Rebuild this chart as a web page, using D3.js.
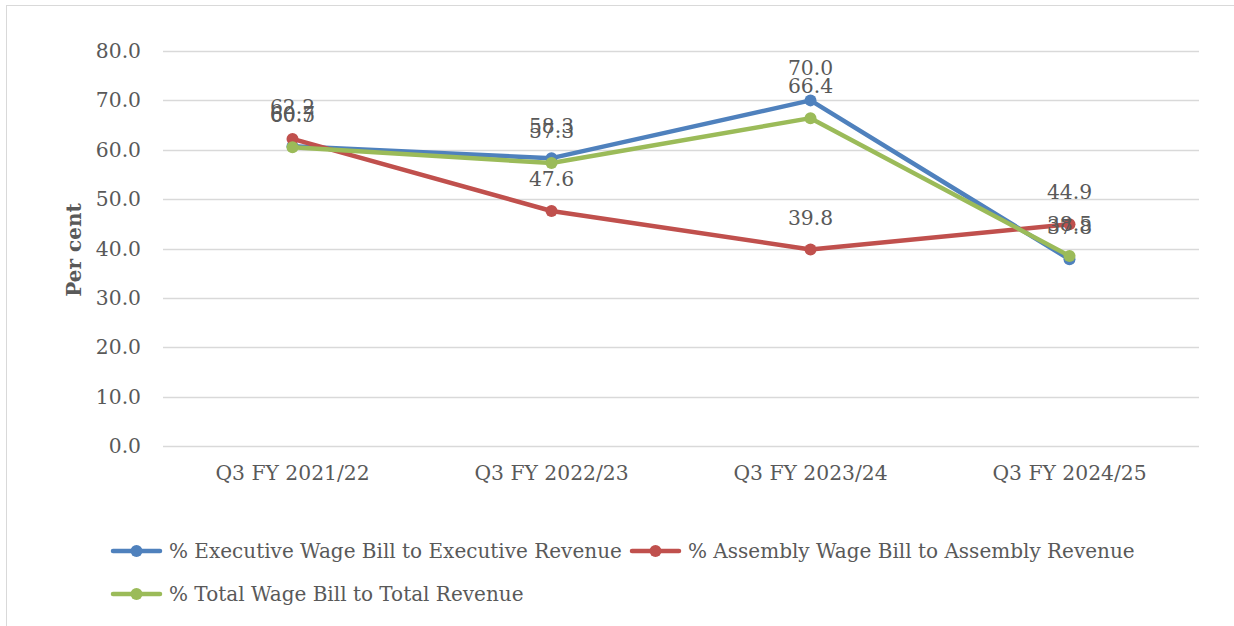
<!DOCTYPE html>
<html><head><meta charset="utf-8">
<script src="https://cdn.jsdelivr.net/npm/d3@7"></script>
<style>
html,body{margin:0;padding:0;background:#fff;}
svg{display:block;}
text{font-family:"DejaVu Serif","Liberation Serif",serif;fill:#595959;}
</style></head><body>
<svg id="chart" width="1234" height="626"></svg>
<script>
const categories = ["Q3 FY 2021/22","Q3 FY 2022/23","Q3 FY 2023/24","Q3 FY 2024/25"];
const executive = [60.7, 58.3, 70.0, 37.8];
const assembly = [62.2, 47.6, 39.8, 44.9];
const total = [60.5, 57.3, 66.4, 38.5];
const seriesNames = ["% Executive Wage Bill to Executive Revenue","% Assembly Wage Bill to Assembly Revenue","% Total Wage Bill to Total Revenue"];
const yTicks = [0,10,20,30,40,50,60,70,80];

(function(){
const colors = ["#4F81BD","#C0504D","#9BBB59"];
const series = [executive, assembly, total];
const FS = 20.3;
const svg = d3.select("#chart");
const W=1234,H=626;
svg.append("rect").attr("x",6.5).attr("y",5.5).attr("width",W+10).attr("height",H+10)
  .attr("fill","#fff").attr("stroke","#d9d9d9").attr("stroke-width",1);

const pL=163,pR=1199,pT=51,pB=446;
const x = d3.scaleBand().domain(categories).range([pL,pR]);
const y = d3.scaleLinear().domain([0,80]).range([pB,pT]);

// gridlines
svg.append("g").selectAll("line").data(yTicks).join("line")
  .attr("x1",pL).attr("x2",pR).attr("y1",d=>Math.round(y(d))+0.5).attr("y2",d=>Math.round(y(d))+0.5)
  .attr("stroke","#d9d9d9").attr("stroke-width",1.5);

// y axis labels
const yAxis = d3.axisLeft(y).tickValues(yTicks).tickFormat(d3.format(".1f")).tickSize(0).tickPadding(22);
const ga = svg.append("g").attr("transform",`translate(${pL},0)`).call(yAxis);
ga.select(".domain").remove();
ga.selectAll("text").style("font-family",'"DejaVu Serif","Liberation Serif",serif').attr("font-size",FS).attr("fill","#595959");

// x axis labels
const xAxis = d3.axisBottom(x).tickSize(0).tickPadding(20);
const gx = svg.append("g").attr("transform",`translate(0,${pB})`).call(xAxis);
gx.select(".domain").remove();
gx.selectAll("text").style("font-family",'"DejaVu Serif","Liberation Serif",serif').attr("font-size",FS).attr("fill","#595959");

// axis title
svg.append("text").attr("transform","translate(81,250) rotate(-90)").attr("text-anchor","middle")
  .attr("font-size",20).attr("font-weight","bold").text("Per cent");

const cx = c => x(c)+x.bandwidth()/2;
const line = d3.line().x((d,i)=>cx(categories[i])).y(d=>y(d));
series.forEach((s,k)=>{
  svg.append("path").datum(s).attr("d",line).attr("fill","none")
    .attr("stroke",colors[k]).attr("stroke-width",4.5).attr("stroke-linejoin","round").attr("stroke-linecap","round");
  svg.append("g").selectAll("circle").data(s).join("circle")
    .attr("cx",(d,i)=>cx(categories[i])).attr("cy",d=>y(d)).attr("r",6).attr("fill",colors[k]);
});
// data labels (overlapping, as in the source chart)
series.forEach((s,k)=>{
  svg.append("g").selectAll("text").data(s).join("text")
    .attr("x",(d,i)=>cx(categories[i])).attr("y",d=>y(d)-32).attr("dy","0.35em")
    .attr("text-anchor","middle").attr("font-size",FS).attr("fill","#404040")
    .text(d=>d3.format(".1f")(d));
});

// legend
const legendItems = [
  {name:seriesNames[0], color:colors[0], x:113, y:551},
  {name:seriesNames[1], color:colors[1], x:632, y:551},
  {name:seriesNames[2], color:colors[2], x:113, y:594}
];
const lg = svg.append("g").selectAll("g").data(legendItems).join("g")
  .attr("transform",d=>`translate(${d.x},${d.y})`);
lg.append("line").attr("x1",0).attr("x2",47).attr("stroke",d=>d.color).attr("stroke-width",4.5).attr("stroke-linecap","round");
lg.append("circle").attr("cx",23.5).attr("r",6).attr("fill",d=>d.color);
lg.append("text").attr("x",56).attr("dy","0.35em").attr("font-size",20).attr("textLength",d=>d.x>600?null:null).text(d=>d.name);
// keep first legend entry from running into the second
const t0 = lg.filter((d,i)=>i===0).select("text").node();
const maxW = legendItems[1].x - legendItems[0].x - 56 - 6;
if (t0.getComputedTextLength() > maxW) d3.select(t0).attr("textLength",maxW).attr("lengthAdjust","spacingAndGlyphs");
})();
</script>
</body></html>
